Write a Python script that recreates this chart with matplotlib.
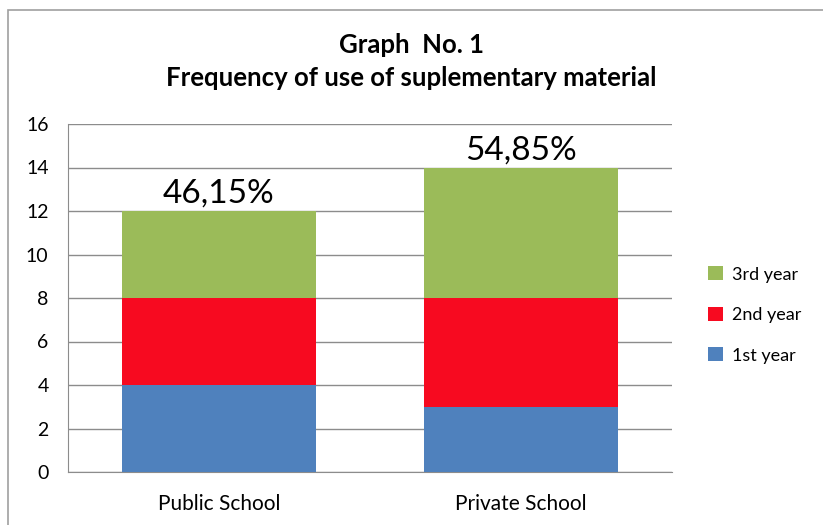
import matplotlib
matplotlib.use('Agg')
import matplotlib.pyplot as plt
from matplotlib.patches import Rectangle

plt.rcParams['font.family'] = ['Lato', 'DejaVu Sans']

schools = ['Public School', 'Private School']
first_year = [4, 3]
second_year = [4, 5]
third_year = [4, 6]
share_labels = ['46,15%', '54,85%']

series = [
	('1st year', first_year, '#4F81BD'),
	('2nd year', second_year, '#F70A20'),
	('3rd year', third_year, '#9BBB59'),
]

fig = plt.figure(figsize=(8.23, 5.25), dpi=100)
ax = fig.add_axes([68 / 823, 1 - 472 / 525, 604 / 823, 348 / 525])

# chart area frame
fig.patches.append(Rectangle((8 / 823, -0.1), 1.2, 1 - 10 / 525 + 0.1,
	transform=fig.transFigure, fill=False, edgecolor='#A0A0A0', linewidth=1.2))

x = list(range(len(schools)))
bottom = [0] * len(schools)
handles = []
for name, vals, color in series:
	h = ax.bar(x, vals, width=0.645, bottom=bottom, color=color, label=name, zorder=3)
	handles.append(h)
	bottom = [b + v for b, v in zip(bottom, vals)]

for xi, total, lbl in zip(x, bottom, share_labels):
	ax.text(xi, total + 0.1, lbl, ha='center', va='bottom', fontsize=24)

ax.set_xlim(-0.5, 1.5)
ax.set_ylim(0, 16)
ax.set_yticks(range(0, 17, 2))
ax.set_xticks(x)
ax.set_xticklabels(schools)
ax.grid(axis='y', color='#8C8C8C', linewidth=1, zorder=0)
for s in ['top', 'right']:
	ax.spines[s].set_visible(False)
ax.spines['left'].set_color('#8C8C8C')
ax.spines['bottom'].set_color('#8C8C8C')
ax.tick_params(axis='both', length=0, labelsize=14, pad=14)
ax.tick_params(axis='x', labelsize=15, pad=16)

fig.text(0.5, 1 - 45 / 525, 'Graph  No. 1', ha='center', va='center',
	fontsize=18.5, fontweight='bold')
fig.text(0.5, 1 - 78 / 525, 'Frequency of use of suplementary material', ha='center',
	va='center', fontsize=18.5, fontweight='bold')

fig.legend(handles[::-1], [s[0] for s in series][::-1], loc='center left',
	bbox_to_anchor=(692 / 823, 1 - 315 / 525), frameon=False, fontsize=13,
	handlelength=0.8, handleheight=0.8, labelspacing=1.35, handletextpad=0.5)

fig.savefig('out.png', dpi=100)
